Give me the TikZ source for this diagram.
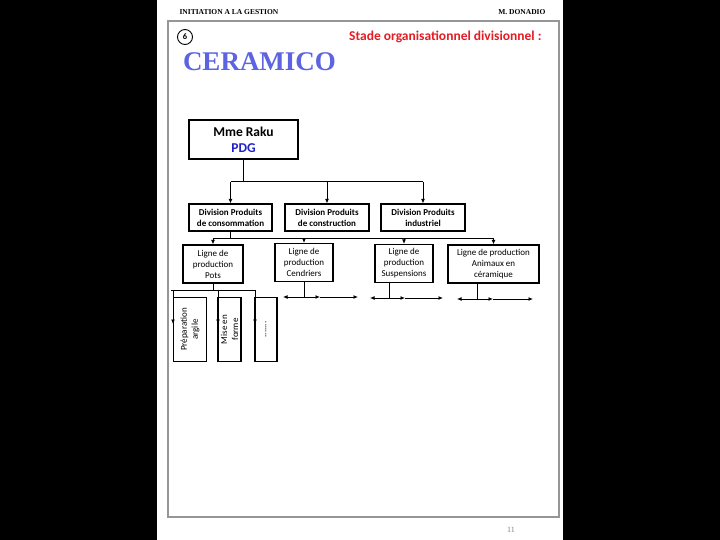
\documentclass[tikz,border=0pt]{standalone}
\usepackage{fontspec}
\setmainfont{Carlito}
\newfontfamily\tnr{Liberation Serif}
\usetikzlibrary{arrows.meta}
\definecolor{ceramblue}{RGB}{92,100,226}
\definecolor{stadered}{RGB}{228,28,36}
\definecolor{pdgblue}{RGB}{32,32,200}
\definecolor{framegray}{RGB}{150,150,150}

\begin{document}
\begin{tikzpicture}[x=1pt,y=-1pt,
  box/.style={draw,line width=1.2pt,inner sep=0pt,align=center,font=\fontsize{9}{11}\selectfont},
  divbox/.style={box,minimum height=27pt,font=\fontsize{9}{11}\selectfont\bfseries},
  linebox/.style={box,minimum height=38pt},
  taskbox/.style={box,rotate=90,minimum width=64pt},
  link/.style={line width=1pt},
  arr/.style={link,-{Latex[length=4.5pt,width=4pt]}}]
\useasboundingbox (0,0) rectangle (720,540);
\fill[black] (0,0) rectangle (720,540);
\fill[white] (157,0) rectangle (563,540);
\draw[framegray,line width=1.2pt] (168,21) rectangle (559,517);
\node[anchor=west,font=\tnr\bfseries\fontsize{7.5}{9}\selectfont] (cours) at (176,12) {INITIATION A LA GESTION};
\node[anchor=east,font=\tnr\bfseries\fontsize{7.5}{9}\selectfont] (prof) at (549,12) {M. DONADIO};
\node[draw,circle,line width=0.9pt,minimum size=15pt,inner sep=0pt,font=\bfseries\fontsize{8.5}{9}\selectfont] (num) at (185,37) {6};
\node[font=\tnr\bfseries\fontsize{27}{29}\selectfont,text=ceramblue] (titre) at (259.5,62) {CERAMICO};
\node[anchor=east,font=\bfseries\fontsize{13.5}{15}\selectfont,text=stadered] (stade) at (545,37) {Stade organisationnel divisionnel :};
\node[gray,font=\tnr\fontsize{8}{9}\selectfont] (page) at (511,530) {11};

\node[box,minimum width=109pt,minimum height=39pt,font=\fontsize{13.5}{16}\selectfont\bfseries] (pdg) at (243.5,139.5) {Mme Raku\\\textcolor{pdgblue}{PDG}};

\node[divbox,minimum width=83pt] (d1) at (230.5,217.5) {Division Produits\\de consommation};
\node[divbox,minimum width=84pt] (d2) at (327,217.5) {Division Produits\\de construction};
\node[divbox,minimum width=84pt] (d3) at (423,217.5) {Division Produits\\industriel};

\node[linebox,minimum width=60pt] (l1) at (213,264) {Ligne de\\production\\Pots};
\node[linebox,minimum width=58pt] (l2) at (304,262.5) {Ligne de\\production\\Cendriers};
\node[linebox,minimum width=58pt] (l3) at (404,263.5) {Ligne de\\production\\Suspensions};
\node[linebox,minimum width=91pt] (l4) at (493.5,264) {Ligne de production\\Animaux en\\céramique};

\node[taskbox,minimum height=33pt] (p1) at (190,329.5) {Préparation\\argile};
\node[taskbox,minimum height=23pt] (p2) at (229.5,329.5) {Mise en\\forme};
\node[taskbox,minimum height=22pt] (p3) at (266,329.5) {.......};

\coordinate (bus1) at (243.5,182);
\draw[link] (pdg.south) -- (bus1);
\draw[link] (d1.north |- bus1) -- (d3.north |- bus1);
\foreach \n in {d1,d2,d3}
  \draw[arr] (\n.north |- bus1) -- (\n.north);

\coordinate (bus2) at (230.5,238);
\draw[link] (d1.south) -- (bus2);
\draw[link] (l1.north |- bus2) -- (l4.north |- bus2);
\foreach \n in {l1,l2,l3,l4}
  \draw[arr] (\n.north |- bus2) -- (\n.north);

\coordinate (bus3) at (213,290);
\draw[link] (l1.south) -- (bus3);
\draw[link] (171,290) -- (255,290);
\foreach \x/\n in {173/1,218/2,255/3}{
  \coordinate (t\n) at (\x,290);
  \coordinate (b\n) at (\x,324);
  \draw[arr] (t\n) -- (b\n);
}

\foreach \n/\s/\l/\m/\r/\y in {l2/304/283/320/358/297,l3/389/370/405/443/298,l4/477/457/493/533/299}{
  \coordinate (s\n) at (\s,\y);
  \coordinate (g\n) at (\l,\y);
  \coordinate (m\n) at (\m,\y);
  \coordinate (r\n) at (\r,\y);
  \draw[link] (s\n |- \n.south) -- (s\n);
  \draw[arr] (s\n) -- (g\n);
  \draw[arr] (s\n) -- (m\n);
  \draw[arr] (m\n) -- (r\n);
}
\end{tikzpicture}
\end{document}
